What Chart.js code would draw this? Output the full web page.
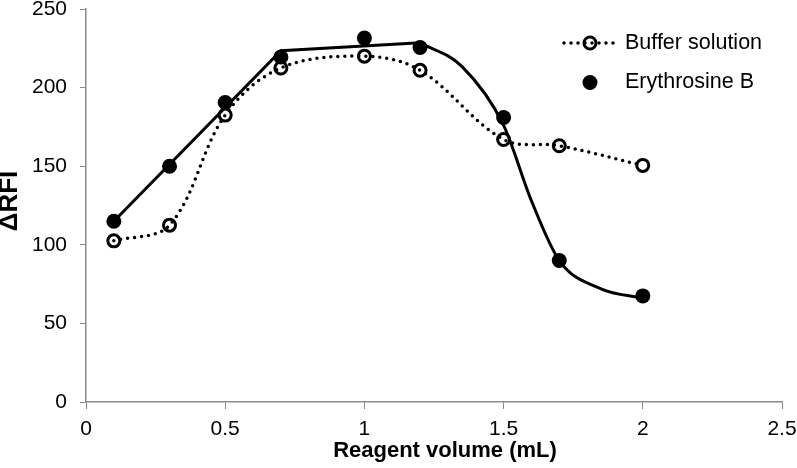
<!DOCTYPE html>
<html>
<head>
<meta charset="utf-8">
<script src="https://cdn.jsdelivr.net/npm/chart.js@4/dist/chart.umd.min.js"></script>
<style>
  html, body { margin: 0; padding: 0; background: #fff; }
  #wrap { width: 797px; height: 468px; }
</style>
</head>
<body>
<div id="wrap"><canvas id="c" width="797" height="468"></canvas></div>
<script>
// Reagent volume vs ΔRFI — buffer vs erythrosine B
const volumes    = [0.1, 0.3, 0.5, 0.7, 1.0, 1.2, 1.5, 1.7, 2.0];
const bufferRFI  = [102.5, 112.5, 182.5, 212.5, 220, 211, 167, 163, 150.5];
const erythRFI   = [115, 150, 190.5, 219.5, 231.5, 225.5, 181, 90, 67.5];

// hand-drawn trend line for erythrosine B (straight part, then smooth drop)
const fitStraightX = [0.1, 0.7, 1.2];
const fitStraightY = [115, 223.5, 228.5];
const fitCurveX = [1.2, 1.35, 1.5, 1.6, 1.7, 1.85, 2.0];
const fitCurveY = [228.5, 213.5, 176, 128, 90, 72, 66];

const xTicks = [0, 0.5, 1, 1.5, 2, 2.5];
const yTicks = [0, 50, 100, 150, 200, 250];
const xTitle = 'Reagent volume (mL)';
const yTitle = 'ΔRFI';

const FONT = "'Liberation Sans', Arial, sans-serif";
const AXIS = '#8a8a8a';

const pts = (xs, ys) => xs.map((x, i) => ({ x, y: ys[i] }));

// legend + axis titles, placed like the Excel original
const decorPlugin = {
  id: 'decor',
  afterDraw(chart) {
    const ctx = chart.ctx;
    ctx.save();
    ctx.strokeStyle = '#000';
    ctx.lineWidth = 3.5;
    ctx.lineCap = 'round';
    ctx.setLineDash([0, 7]);
    ctx.beginPath(); ctx.moveTo(564, 43); ctx.lineTo(616, 43); ctx.stroke();
    ctx.setLineDash([]);
    ctx.lineWidth = 3;
    ctx.beginPath(); ctx.arc(590, 43, 6, 0, Math.PI * 2); ctx.stroke();
    ctx.fillStyle = '#000';
    ctx.beginPath(); ctx.arc(590, 82.5, 7.5, 0, Math.PI * 2); ctx.fill();
    ctx.font = `21.5px ${FONT}`;
    ctx.textBaseline = 'middle';
    ctx.fillText('Buffer solution', 625, 43);
    ctx.fillText('Erythrosine B', 625, 82);

    ctx.font = `bold 22px ${FONT}`;
    ctx.textAlign = 'center';
    ctx.fillText(xTitle, 445, 451);
    ctx.translate(10, 201);
    ctx.rotate(-Math.PI / 2);
    ctx.font = `bold 26px ${FONT}`;
    ctx.fillText(yTitle, 0, 0);
    ctx.restore();
  }
};

new Chart(document.getElementById('c'), {
  type: 'scatter',
  data: {
    datasets: [
      { label: 'fit-a', data: pts(fitStraightX, fitStraightY), showLine: true,
        borderColor: '#000', borderWidth: 3, pointRadius: 0, tension: 0, order: 3 },
      { label: 'fit-b', data: pts(fitCurveX, fitCurveY), showLine: true,
        borderColor: '#000', borderWidth: 3, pointRadius: 0, cubicInterpolationMode: 'monotone', order: 3 },
      { label: 'Buffer solution', data: pts(volumes, bufferRFI), showLine: true,
        borderColor: '#000', borderWidth: 3.5, borderDash: [0, 7], borderCapStyle: 'round',
        tension: 0.35, pointRadius: 6, pointBorderWidth: 3, pointBorderColor: '#000',
        pointBackgroundColor: 'rgba(0,0,0,0)', order: 2 },
      { label: 'Erythrosine B', data: pts(volumes, erythRFI), showLine: false,
        pointRadius: 7.5, pointBackgroundColor: '#000', pointBorderColor: '#000', pointBorderWidth: 0, order: 1 }
    ]
  },
  options: {
    responsive: false,
    animation: false,
    layout: { padding: { left: 0, right: 15, top: 5, bottom: 0 } },
    plugins: { legend: { display: false }, tooltip: { enabled: false } },
    scales: {
      x: {
        type: 'linear', min: 0, max: 2.5,
        afterBuildTicks: a => { a.ticks = xTicks.map(v => ({ value: v })); },
        afterFit: a => { a.height = 66; a.paddingLeft = 0; a.paddingRight = 0; },
        grid: { drawOnChartArea: false, color: AXIS, tickLength: 7 },
        border: { color: AXIS, width: 1.5 },
        ticks: { color: '#000', font: { family: FONT, size: 21 }, padding: 8, maxRotation: 0,
                 callback: v => String(v) }
      },
      y: {
        min: 0, max: 250,
        afterBuildTicks: a => { a.ticks = yTicks.map(v => ({ value: v })); },
        afterFit: a => { a.width = 86; a.paddingTop = 0; a.paddingBottom = 0; },
        grid: { drawOnChartArea: false, color: AXIS, tickLength: 6 },
        border: { color: AXIS, width: 1.5 },
        ticks: { color: '#000', font: { family: FONT, size: 21 }, padding: 13,
                 callback: v => String(v) }
      }
    }
  },
  plugins: [decorPlugin]
});
</script>
</body>
</html>
